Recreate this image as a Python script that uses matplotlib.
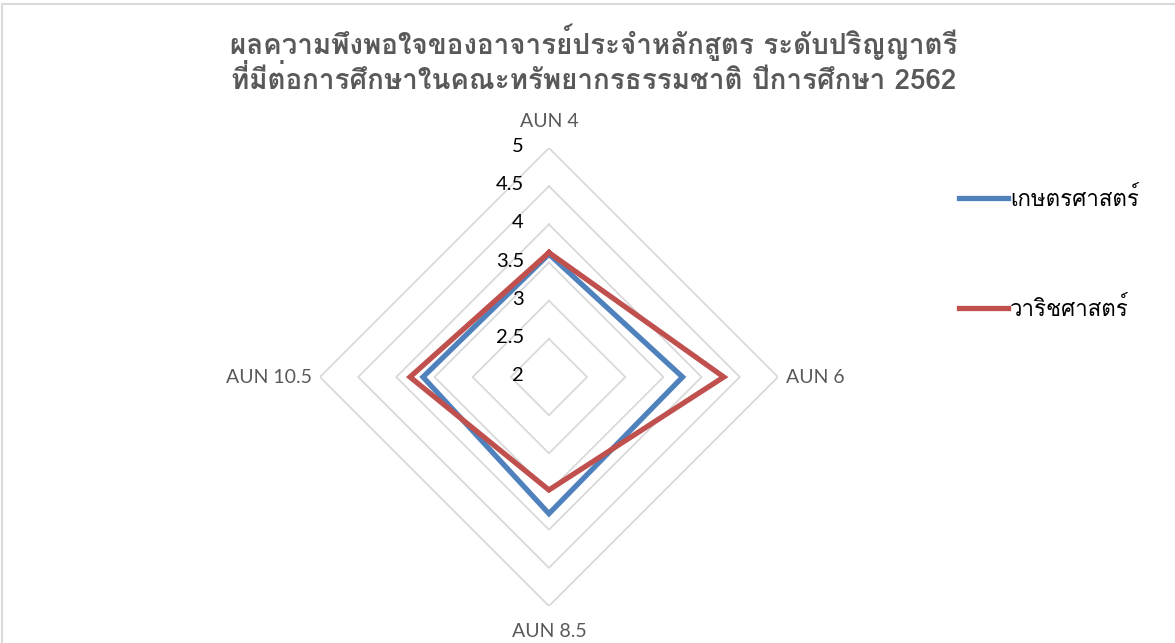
import numpy as np
import matplotlib
matplotlib.use('Agg')
import matplotlib.pyplot as plt
from matplotlib import font_manager
from matplotlib.transforms import offset_copy
from matplotlib.patches import Rectangle

# ── data ─────────────────────────────────────────
categories = ['AUN 4', 'AUN 6', 'AUN 8.5', 'AUN 10.5']
series_names = ['เกษตรศาสตร์', 'วาริชศาสตร์']
kaset = [3.61, 3.75, 3.79, 3.65]
warich = [3.63, 4.29, 3.48, 3.82]
r_levels = [2, 2.5, 3, 3.5, 4, 4.5, 5]
r_labels = ['2', '2.5', '3', '3.5', '4', '4.5', '5']
title = ('ผลความพึงพอใจของอาจารย์ประจำหลักสูตร ระดับปริญญาตรี\n'
         'ที่มีต่อการศึกษาในคณะทรัพยากรธรรมชาติ ปีการศึกษา 2562')

# ── style ────────────────────────────────────────
COLORS = ['#4F81BD', '#C0504D']
GRID_C = '#D9D9D9'
TEXT_C = '#595959'


def find_thai_fonts():
    # หา font ที่มี glyph ภาษาไทย
    from fontTools.ttLib import TTFont
    fams = []
    for f in font_manager.fontManager.ttflist:
        try:
            tt = TTFont(f.fname, fontNumber=0, lazy=True)
            cmap = tt.getBestCmap()
        except Exception:
            continue
        if cmap and 0x0E01 in cmap and 0x0E4C in cmap and f.name not in fams:
            fams.append(f.name)
    return fams


thai = find_thai_fonts()
FAM = thai[:1] + ['Lato', 'DejaVu Sans']
plt.rcParams['font.family'] = FAM

fig = plt.figure(figsize=(11.75, 6.43), dpi=100)
fig.patches.append(Rectangle((2 / 1175, -0.1), 1.2, 1 - 4 / 643 + 0.1,
                             transform=fig.transFigure, fill=False,
                             ec=GRID_C, lw=1.5))

ax = fig.add_axes([0.2723, 0.0575, 0.3898, 0.7123], projection='polar')
ax.set_theta_zero_location('N')
ax.set_theta_direction(-1)
ax.set_ylim(r_levels[0], r_levels[-1])
ax.grid(False)
ax.spines['polar'].set_visible(False)
ax.set_xticks([])
ax.set_yticks([])
ax.patch.set_alpha(0)

n = len(categories)
ang = np.arange(n) * 2 * np.pi / n
ang_c = np.append(ang, ang[0])

for lv in r_levels[1:]:
    ax.plot(ang_c, [lv] * (n + 1), color=GRID_C, lw=1.3, zorder=1)

for vals, name, c in zip([kaset, warich], series_names, COLORS):
    ax.plot(ang_c, list(vals) + [vals[0]], color=c, lw=3.8, label=name,
            zorder=3, solid_joinstyle='miter')

# r tick labels
for lv, lb in zip(r_levels, r_labels):
    tr = offset_copy(ax.transData, fig=fig, x=-18, y=1, units='points')
    ax.text(0, lv, lb, transform=tr, ha='right', va='center', fontsize=14.5,
            color='black', family=['Lato', 'DejaVu Sans'])

# category labels
offs = [(0, 19, 'center', 'center'), (6, 0, 'left', 'center'),
        (0, -18, 'center', 'center'), (-6, 0, 'right', 'center')]
for a, lb, (dx, dy, ha, va) in zip(ang, categories, offs):
    tr = offset_copy(ax.transData, fig=fig, x=dx, y=dy, units='points')
    ax.text(a, r_levels[-1], lb, transform=tr, ha=ha, va=va, fontsize=14,
            color=TEXT_C, family=['Lato', 'DejaVu Sans'])

fig.text(0.5055, 0.909, title, ha='center', va='center', fontsize=20,
         fontweight='bold', color=TEXT_C, linespacing=1.15)

fig.legend(loc='upper left', bbox_to_anchor=(0.799, 0.741), frameon=False,
           fontsize=16, handlelength=2.2, handletextpad=0.1, labelspacing=3.9)

fig.savefig('out.png', dpi=100)
